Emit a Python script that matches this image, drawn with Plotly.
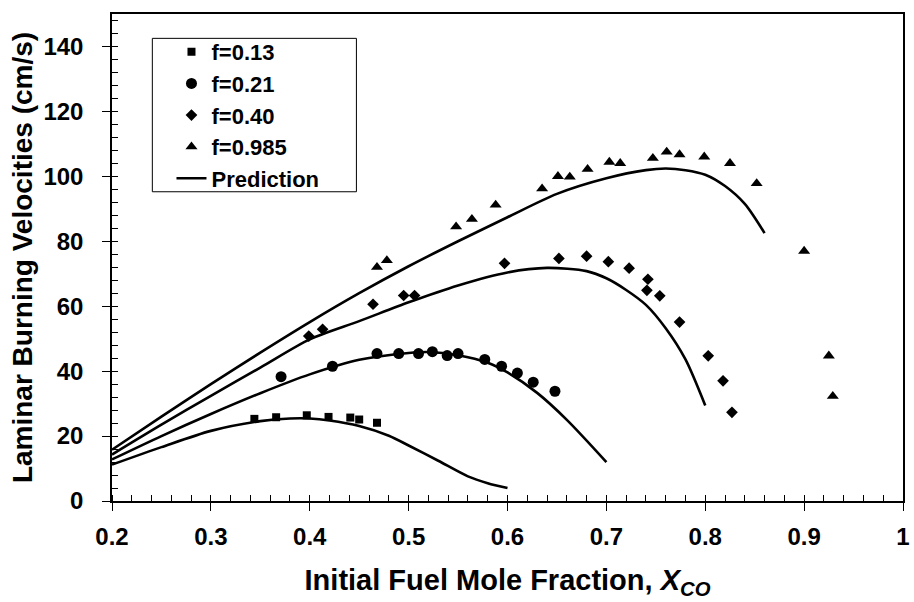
import plotly.graph_objects as go

# Measured laminar burning velocities (cm/s) vs initial CO mole fraction
x_f013 = [0.344, 0.366, 0.397, 0.419, 0.441, 0.450, 0.468]
y_f013 = [25.3, 25.8, 26.4, 25.9, 25.7, 25.1, 24.1]

x_f021 = [0.371, 0.423, 0.468, 0.490, 0.510, 0.524, 0.539, 0.550, 0.577, 0.594, 0.610, 0.626, 0.648]
y_f021 = [38.3, 41.5, 45.4, 45.4, 45.4, 46.0, 44.8, 45.4, 43.6, 41.5, 39.4, 36.6, 33.8]

x_f040 = [0.399, 0.413, 0.464, 0.495, 0.506, 0.597, 0.652, 0.680, 0.702, 0.723,
          0.742, 0.741, 0.754, 0.774, 0.803, 0.818, 0.827]
y_f040 = [50.8, 52.9, 60.6, 63.3, 63.3, 73.2, 74.7, 75.4, 73.7, 71.7,
          68.3, 64.9, 63.2, 55.1, 44.7, 37.0, 27.3]

x_f0985 = [0.468, 0.478, 0.548, 0.564, 0.588, 0.635, 0.651, 0.663, 0.681, 0.703,
           0.714, 0.747, 0.761, 0.774, 0.799, 0.825, 0.852, 0.900, 0.925, 0.929]
y_f0985 = [72.0, 74.1, 84.5, 86.8, 91.2, 96.2, 100.0, 99.8, 102.2, 104.4,
           104.0, 105.6, 107.5, 106.7, 106.0, 104.0, 97.8, 77.0, 44.7, 32.3]

# Model predictions
px_f013 = [0.20, 0.25, 0.30, 0.35, 0.38, 0.40, 0.42, 0.45, 0.48, 0.50, 0.53, 0.56, 0.58, 0.60]
py_f013 = [11.2, 16.6, 21.6, 24.6, 25.4, 25.4, 24.8, 23.1, 20.1, 17.1, 12.4, 7.6, 5.5, 4.0]

px_f021 = [0.20, 0.25, 0.30, 0.35, 0.40, 0.45, 0.50, 0.52, 0.55, 0.58, 0.60, 0.63, 0.66, 0.70]
py_f021 = [12.8, 20.0, 26.8, 33.2, 39.0, 43.5, 45.6, 45.9, 44.9, 42.6, 39.6, 33.3, 25.0, 12.0]

px_f040 = [0.20, 0.25, 0.30, 0.35, 0.40, 0.45, 0.50, 0.55, 0.60, 0.64, 0.68,
           0.70, 0.72, 0.74, 0.76, 0.78, 0.80]
py_f040 = [14.3, 23.5, 32.4, 41.1, 49.8, 55.4, 61.2, 66.4, 70.4, 71.8, 70.8,
           68.6, 65.0, 60.4, 53.2, 43.6, 29.4]

px_f0985 = [0.20, 0.25, 0.30, 0.35, 0.40, 0.45, 0.50, 0.55, 0.60, 0.65, 0.70,
            0.74, 0.76, 0.78, 0.80, 0.82, 0.84, 0.86]
py_f0985 = [15.8, 26.0, 36.0, 45.7, 55.1, 64.0, 72.3, 80.0, 87.4, 94.6, 99.4,
            101.9, 102.4, 101.9, 100.5, 97.0, 91.5, 82.5]

x_ticks = [0.2, 0.3, 0.4, 0.5, 0.6, 0.7, 0.8, 0.9, 1.0]
x_tick_text = ["0.2", "0.3", "0.4", "0.5", "0.6", "0.7", "0.8", "0.9", "1"]
y_ticks = [0, 20, 40, 60, 80, 100, 120, 140]

FONT = "Liberation Sans, Arial, sans-serif"
BLACK = "#000000"

fig = go.Figure()

# prediction curves (one legend entry)
pred = [(px_f013, py_f013), (px_f021, py_f021), (px_f040, py_f040), (px_f0985, py_f0985)]
for i, (px, py) in enumerate(pred):
    fig.add_trace(go.Scatter(
        x=px, y=py, mode="lines", name="Prediction",
        line=dict(color=BLACK, width=2.6, shape="spline", smoothing=0.8),
        showlegend=(i == 0), legendrank=5, hoverinfo="skip"))

series = [
    ("f=0.13", x_f013, y_f013, "square", 8),
    ("f=0.21", x_f021, y_f021, "circle", 11),
    ("f=0.40", x_f040, y_f040, "diamond", 9),
    ("f=0.985", x_f0985, y_f0985, "triangle-up", 10.5),
]
for rank, (name, xs, ys, sym, size) in enumerate(series, start=1):
    fig.add_trace(go.Scatter(
        x=xs, y=ys, mode="markers", name=name, legendrank=rank,
        marker=dict(symbol=sym, size=size, color=BLACK, line=dict(width=0))))

# framed box behind the legend entries
fig.add_shape(type="rect", xref="paper", yref="paper",
              x0=0.051, x1=0.309, y0=0.635, y1=0.950,
              line=dict(color=BLACK, width=1), fillcolor="white", layer="below")

fig.update_layout(
    width=914, height=602,
    margin=dict(l=112, r=4, t=14, b=101),
    paper_bgcolor="white", plot_bgcolor="white",
    font=dict(family=FONT, size=24, color=BLACK, weight="bold"),
    showlegend=True,
    legend=dict(
        x=0.0752, y=0.965, xanchor="left", yanchor="top",
        bgcolor="rgba(0,0,0,0)", borderwidth=0,
        font=dict(family=FONT, size=22, color=BLACK, weight="bold"),
        itemwidth=30, tracegroupgap=0,
    ),
    xaxis=dict(
        range=[0.2, 1.0], tickvals=x_ticks, ticktext=x_tick_text,
        showgrid=False, zeroline=False,
        showline=True, linecolor=BLACK, linewidth=1.5, mirror=True,
        ticks="outside", ticklen=8, tickwidth=1.2, tickcolor=BLACK,
        ticklabelstandoff=5, ticklabeloverflow="allow",
        minor=dict(dtick=0.02, tick0=0.2, ticks="inside", ticklen=6,
                   tickwidth=1, tickcolor=BLACK),
        title=dict(text="Initial Fuel Mole Fraction, <i>X</i><sub><i>CO</i></sub>",
                   font=dict(family=FONT, size=29, color=BLACK, weight="bold"),
                   standoff=21),
        tickfont=dict(family=FONT, size=24, color=BLACK, weight="bold"),
    ),
    yaxis=dict(
        range=[0, 150], tickvals=y_ticks,
        showgrid=False, zeroline=False,
        showline=True, linecolor=BLACK, linewidth=1.5, mirror=True,
        ticks="outside", ticklen=8, tickwidth=1.2, tickcolor=BLACK,
        ticklabelstandoff=14,
        minor=dict(dtick=4, tick0=0, ticks="inside", ticklen=6,
                   tickwidth=1, tickcolor=BLACK),
        title=dict(text="Laminar Burning Velocities (cm/s)",
                   font=dict(family=FONT, size=28, color=BLACK, weight="bold"),
                   standoff=3),
        tickfont=dict(family=FONT, size=24, color=BLACK, weight="bold"),
    ),
)

fig.write_html("out.html")
